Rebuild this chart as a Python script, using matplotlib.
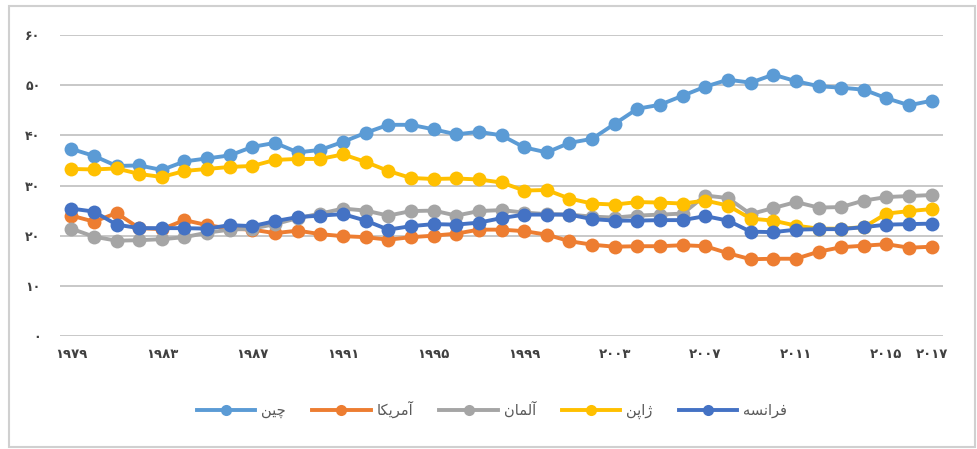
import matplotlib
matplotlib.use("Agg")
import matplotlib.pyplot as plt
from matplotlib.patches import Rectangle

years = list(range(1979, 2018))

china = [37.3, 35.9, 33.9, 34.0, 33.1, 34.8, 35.4, 36.0, 37.7, 38.5,
         36.6, 37.1, 38.7, 40.5, 42.1, 42.1, 41.2, 40.2, 40.7, 40.0,
         37.6, 36.6, 38.5, 39.3, 42.3, 45.3, 46.1, 47.9, 49.7, 51.1,
         50.5, 52.1, 50.8, 49.8, 49.5, 49.1, 47.4, 46.0, 46.9]
usa = [24.0, 22.8, 24.5, 21.5, 21.3, 23.1, 22.1, 21.4, 21.2, 20.5,
       21.0, 20.3, 19.9, 19.7, 19.2, 19.7, 20.0, 20.4, 21.2, 21.2,
       20.9, 20.2, 18.9, 18.2, 17.8, 17.9, 17.9, 18.1, 17.9, 16.5,
       15.3, 15.4, 15.4, 16.8, 17.7, 18.0, 18.3, 17.6, 17.8]
germany = [21.4, 19.8, 19.0, 19.1, 19.3, 19.7, 20.6, 21.2, 21.4, 22.3,
           23.5, 24.4, 25.4, 25.0, 24.0, 24.9, 25.0, 24.0, 24.9, 25.1,
           24.6, 24.3, 24.2, 23.8, 23.6, 24.0, 24.2, 24.4, 28.0, 27.5,
           24.3, 25.5, 26.7, 25.6, 25.7, 27.0, 27.7, 27.9, 28.1]
japan = [33.3, 33.2, 33.4, 32.3, 31.7, 32.9, 33.3, 33.7, 33.9, 35.1,
         35.3, 35.3, 36.2, 34.7, 32.9, 31.5, 31.3, 31.4, 31.2, 30.6,
         29.0, 29.1, 27.4, 26.4, 26.2, 26.7, 26.6, 26.4, 27.0, 26.0,
         23.4, 23.0, 22.0, 21.4, 21.4, 21.7, 24.4, 24.9, 25.3]
france = [25.4, 24.8, 22.2, 21.5, 21.5, 21.5, 21.4, 22.1, 21.9, 22.9,
          23.7, 24.0, 24.3, 23.0, 21.2, 21.9, 22.3, 22.2, 22.6, 23.5,
          24.2, 24.2, 24.2, 23.3, 23.0, 23.0, 23.1, 23.1, 23.9, 23.0,
          20.8, 20.7, 21.2, 21.3, 21.3, 21.7, 22.2, 22.3, 22.4]

names = ["چین", "آمریکا", "آلمان", "ژاپن", "فرانسه"]
colors = ["#5B9BD5", "#ED7D31", "#A5A5A5", "#FFC000", "#4472C4"]
tick_years = [1979, 1983, 1987, 1991, 1995, 1999, 2003, 2007, 2011, 2015, 2017]
y_ticks = [0, 10, 20, 30, 40, 50, 60]

# matplotlib has no arabic shaping, so pick presentation forms by hand
forms = {
    "چ": "\uFB7A\uFB7B\uFB7C\uFB7D", "ی": "\uFBFC\uFBFD\uFBFE\uFBFF",
    "ن": "\uFEE5\uFEE6\uFEE7\uFEE8", "آ": "\uFE81\uFE82",
    "م": "\uFEE1\uFEE2\uFEE3\uFEE4", "ر": "\uFEAD\uFEAE",
    "ک": "\uFB8E\uFB8F\uFB90\uFB91", "ا": "\uFE8D\uFE8E",
    "ل": "\uFEDD\uFEDE\uFEDF\uFEE0", "ژ": "\uFB8A\uFB8B",
    "پ": "\uFB56\uFB57\uFB58\uFB59", "ف": "\uFED1\uFED2\uFED3\uFED4",
    "س": "\uFEB1\uFEB2\uFEB3\uFEB4", "ه": "\uFEE9\uFEEA\uFEEB\uFEEC",
}


def shape(word):
    out = []
    for i, ch in enumerate(word):
        f = forms[ch]
        prev_joins = i > 0 and len(forms[word[i - 1]]) == 4
        next_joins = len(f) == 4 and i < len(word) - 1
        if prev_joins and next_joins:
            out.append(f[3])
        elif next_joins:
            out.append(f[2])
        elif prev_joins:
            out.append(f[1])
        else:
            out.append(f[0])
    return "".join(reversed(out))


fa_digits = str.maketrans("0123456789", "۰۱۲۳۴۵۶۷۸۹")

fig = plt.figure(figsize=(9.78, 4.49), dpi=100)
fig.patches.append(Rectangle((0.009, 0.005), 0.988, 0.982, transform=fig.transFigure,
                             fill=False, edgecolor="#D0D0D0", linewidth=1.5))
ax = fig.add_axes([0.0613, 0.2517, 0.903, 0.6703])

series = [china, usa, germany, japan, france]
for vals, name, col in zip(series, names, colors):
    ax.plot(years, vals, color=col, linewidth=2.8, marker="o", markersize=10,
            markeredgewidth=0, label=shape(name))

ax.set_xlim(1978.5, 2017.5)
ax.set_ylim(0, 60)
ax.set_yticks(y_ticks)
ax.set_yticklabels([str(v).translate(fa_digits) for v in y_ticks])
ax.set_xticks(tick_years)
ax.set_xticklabels([str(y).translate(fa_digits) for y in tick_years])
ax.grid(axis="y", color="#C4C4C4", linewidth=1.3)
ax.set_axisbelow(True)
for s in ax.spines.values():
    s.set_visible(False)
ax.tick_params(axis="y", length=0, pad=14, labelsize=9, labelcolor="#404040")
ax.tick_params(axis="x", length=0, pad=9, labelsize=9.5, labelcolor="#404040")
for lab in ax.get_xticklabels() + ax.get_yticklabels():
    lab.set_fontweight("bold")

fig.legend(loc="center", bbox_to_anchor=(0.503, 0.087), ncol=5, frameon=False,
           fontsize=10.5, handlelength=4.0, columnspacing=1.8, handletextpad=0.4,
           markerscale=0.8, labelcolor="#595959")

fig.savefig("out.png", dpi=100)
